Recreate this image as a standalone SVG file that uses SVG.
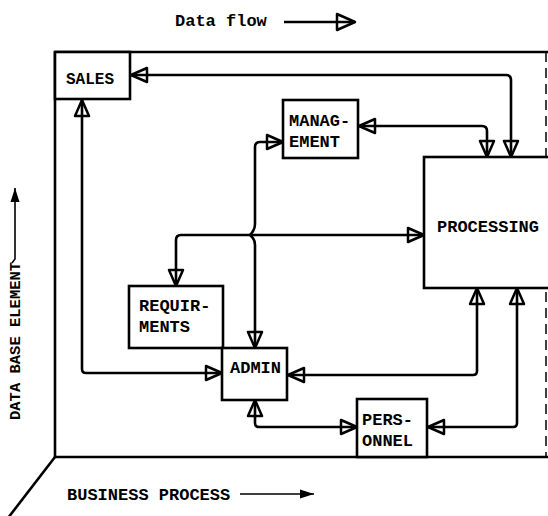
<svg xmlns="http://www.w3.org/2000/svg" width="548" height="516" viewBox="0 0 548 516">
  <defs>
    <marker id="oa" markerUnits="userSpaceOnUse" markerWidth="22" markerHeight="20" viewBox="-2 -10 22 20" refX="17" refY="0" orient="auto-start-reverse">
      <path d="M1,-7 L17,0 L1,7 Z" fill="none" stroke="#000" stroke-width="2.5" stroke-linejoin="round"/>
    </marker>
    <marker id="ob" markerUnits="userSpaceOnUse" markerWidth="24" markerHeight="22" viewBox="-2 -11 24 22" refX="19" refY="0" orient="auto">
      <path d="M1,-8 L19,0 L1,8 Z" fill="none" stroke="#000" stroke-width="2.5" stroke-linejoin="round"/>
    </marker>
    <marker id="sa" markerUnits="userSpaceOnUse" markerWidth="16" markerHeight="12" viewBox="0 -6 16 12" refX="14" refY="0" orient="auto">
      <path d="M0,-4.5 L14,0 L0,4.5 Z" fill="#000"/>
    </marker>
  </defs>
  <style>
    .box { fill: #fff; stroke: #000; stroke-width: 2.6; }
    .ln { fill: none; stroke: #000; stroke-width: 2.6; stroke-linejoin: round; }
    .c { fill: none; stroke: #000; stroke-width: 2.6; stroke-linejoin: round; marker-start: url(#oa); marker-end: url(#oa); }
    text { font-family: "Liberation Mono", "DejaVu Sans Mono", monospace; font-weight: bold; font-size: 17px; fill: #000; }
  </style>
  <rect width="548" height="516" fill="#fff"/>

  <g id="legend-dataflow">
    <text x="175" y="26">Data flow</text>
    <line class="ln" x1="284" y1="22" x2="355" y2="22" marker-end="url(#ob)"/>
  </g>

  <g id="frame">
    <path class="ln" d="M548,52 L55,52 L55,457 L548,457"/>
    <line x1="546" y1="52" x2="546" y2="457" stroke="#000" stroke-width="1.5" stroke-dasharray="10,6"/>
    <line class="ln" x1="55" y1="457" x2="8" y2="518"/>
  </g>

  <g id="axis-y">
    <text x="20" y="420" transform="rotate(-90 20 420)" style="font-size:15.5px">DATA BASE ELEMENT</text>
    <path d="M12,263 L15,259 L15,188" fill="none" stroke="#000" stroke-width="1.6" marker-end="url(#sa)"/>
  </g>

  <g id="axis-x">
    <text x="67" y="500">BUSINESS PROCESS</text>
    <line x1="240" y1="494" x2="314" y2="494" stroke="#000" stroke-width="1.6" marker-end="url(#sa)"/>
  </g>

  <g id="connectors">
    <path class="c" d="M511,157 L511,80 Q511,75 506,75 L131,75"/>
    <path class="c" d="M359,126 L482,126 Q487,126 487,131 L487,157"/>
    <path class="c" d="M82,100 L82,369 Q82,373 86,373 L222,373"/>
    <path class="c" d="M283,142 L260,142 Q255,142 255,147 L255,224 Q255,230 250,235 Q255,239 255,245 L255,348"/>
    <path class="c" d="M424,235 L181,235 Q176,235 176,240 L176,286"/>
    <path class="c" d="M477,288 L477,371 Q477,375 473,375 L288,375"/>
    <path class="c" d="M517,288 L517,423 Q517,427 513,427 L428,427"/>
    <path class="c" d="M255,400 L255,423 Q255,427 259,427 L357,427"/>
  </g>

  <g id="sales">
    <rect class="box" x="55" y="52" width="75" height="47"/>
    <text x="66" y="84" style="font-size:16px">SALES</text>
  </g>
  <g id="management">
    <rect class="box" x="283" y="100" width="75" height="58"/>
    <text x="289" y="126">MANAG-</text>
    <text x="289" y="147">EMENT</text>
  </g>
  <g id="processing">
    <rect class="box" x="424" y="157" width="130" height="131"/>
    <text x="437" y="232">PROCESSING</text>
  </g>
  <g id="requirements">
    <rect class="box" x="129" y="286" width="94" height="62"/>
    <text x="139" y="311">REQUIR-</text>
    <text x="139" y="332">MENTS</text>
  </g>
  <g id="admin">
    <rect class="box" x="222" y="348" width="65" height="52"/>
    <text x="230" y="373">ADMIN</text>
  </g>
  <g id="personnel">
    <rect class="box" x="357" y="399" width="70" height="58"/>
    <text x="362" y="425">PERS-</text>
    <text x="362" y="446">ONNEL</text>
  </g>
</svg>
